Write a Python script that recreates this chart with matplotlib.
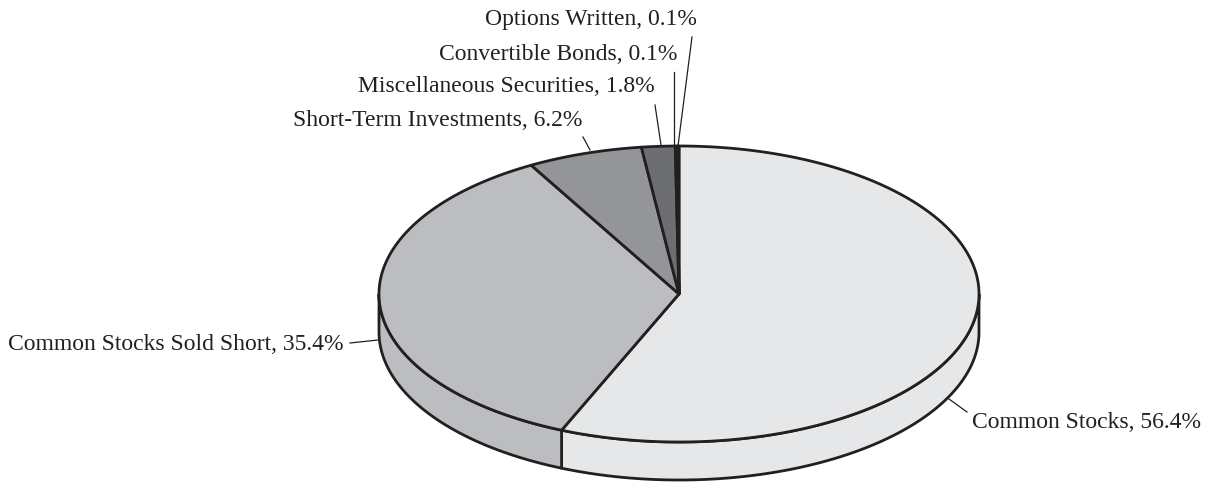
import numpy as np
import matplotlib
matplotlib.use("Agg")
import matplotlib.pyplot as plt
from matplotlib.patches import Polygon

# data
labels = ["Common Stocks", "Common Stocks Sold Short", "Short-Term Investments",
          "Miscellaneous Securities", "Convertible Bonds", "Options Written"]
shares = [56.4, 35.4, 6.2, 1.8, 0.1, 0.1]
colors = ["#e6e7e8", "#bcbdc0", "#939598", "#6d6e71", "#231f20", "#231f20"]

# label layout (pixel coords): text anchor, alignment, leader end on pie
text_xy = [(972, 423), (343, 345), (582, 120), (655, 87), (677, 55), (697, 20)]
text_ha = ["left", "right", "right", "right", "right", "right"]
leader_from = [(967, 413), (350, 344), (583, 138), (655, 106), (674, 73), (692, 38)]
leader_to = [(949, 400), (378, 341), (590, 151), (661, 146), (674, 147), (678, 147)]

W, H = 1213, 485
cx, cy, rx, ry, depth = 679, 295, 300, 148, 38

plt.rcParams['font.family'] = ['Liberation Serif', 'DejaVu Serif']
fig = plt.figure(figsize=(W / 100, H / 100), dpi=100)
ax = fig.add_axes([0, 0, 1, 1])
ax.set_xlim(0, W)
ax.set_ylim(H, 0)
ax.axis("off")

def pt(theta, dz=0):
    t = np.radians(theta)
    return cx + rx * np.cos(t), cy - ry * np.sin(t) + dz

# wedge angles, clockwise from the top
bounds = [90.0]
for s in shares:
    bounds.append(bounds[-1] - s * 3.6)

lw = 2.0
# side walls (front half only, 180..360 deg)
for i in range(len(shares)):
    a1, a2 = bounds[i + 1], bounds[i]
    for off in (0, 360, -360):
        lo = max(a1 + off, 180)
        hi = min(a2 + off, 360)
        if hi > lo:
            th = np.linspace(lo, hi, 120)
            top = [pt(t) for t in th]
            bot = [pt(t, depth) for t in th[::-1]]
            ax.add_patch(Polygon(top + bot, closed=True, facecolor=colors[i],
                                 edgecolor="#231f20", lw=lw, joinstyle="round"))

# top face wedges
for i in range(len(shares)):
    a1, a2 = bounds[i + 1], bounds[i]
    th = np.linspace(a1, a2, max(int(abs(a2 - a1) * 2), 4))
    poly = [(cx, cy)] + [pt(t) for t in th]
    ax.add_patch(Polygon(poly, closed=True, facecolor=colors[i],
                         edgecolor="#231f20", lw=lw, joinstyle="round"))

# labels with leader lines
for i in range(len(shares)):
    (x0, y0), (x1, y1) = leader_from[i], leader_to[i]
    ax.plot([x0, x1], [y0, y1], color="#231f20", lw=0.9)
    ax.text(text_xy[i][0], text_xy[i][1], f"{labels[i]}, {shares[i]}%",
            ha=text_ha[i], va="center", fontsize=17, color="#231f20")

fig.savefig("out.png", dpi=100)
